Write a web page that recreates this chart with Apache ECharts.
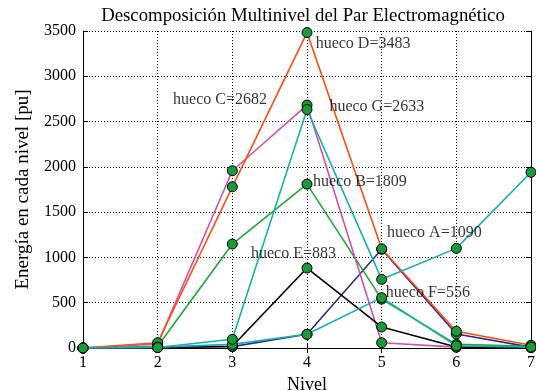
<!DOCTYPE html>
<html><head><meta charset="utf-8">
<script src="https://cdn.jsdelivr.net/npm/echarts@6/dist/echarts.min.js"></script>
<style>html,body{margin:0;padding:0;background:#fff}#c{width:536px;height:391px}</style>
</head><body><div id="c"></div>
<script>
const levels = [1, 2, 3, 4, 5, 6, 7];
const huecoA = [0, 5, 15, 151, 1090, 155, 10];
const huecoB = [0, 20, 1148, 1809, 540, 40, 20];
const huecoC = [0, 45, 1957, 2682, 58, 10, 5];
const huecoD = [0, 58, 1780, 3483, 1095, 185, 30];
const huecoE = [0, 5, 20, 883, 232, 10, 5];
const huecoF = [0, 10, 40, 151, 556, 25, 10];
const huecoG = [0, 5, 96, 2633, 758, 1100, 1940];
const seriesNames = ['hueco A', 'hueco B', 'hueco C', 'hueco D', 'hueco E', 'hueco F', 'hueco G'];
const seriesColors = ['#2e2a8c', '#1ea83a', '#d050ae', '#ff4a10', '#000000', '#14b0b0', '#14b0b0'];
const yTicks = [0, 500, 1000, 1500, 2000, 2500, 3000, 3500];
// annotation texts with anchor (left edge) in data coordinates
const annoText = ['hueco D=3483', 'hueco C=2682', 'hueco G=2633', 'hueco B=1809', 'hueco A=1090', 'hueco E=883', 'hueco F=556'];
const annoX = [4.116, 2.207, 4.30, 4.08, 5.07, 3.25, 5.055];
const annoY = [3355, 2737, 2660, 1832, 1269, 1037, 607];

const all = [huecoA, huecoB, huecoC, huecoD, huecoE, huecoF, huecoG];
const font = 'Liberation Serif';
const chart = echarts.init(document.getElementById('c'), null, {renderer: 'canvas'});
const series = all.map((vals, i) => ({
  name: seriesNames[i], type: 'line',
  data: levels.map((l, j) => [l, vals[j]]),
  symbol: 'circle', symbolSize: 10,
  itemStyle: {color: '#1a9a3a', borderColor: '#000', borderWidth: 1},
  lineStyle: {color: seriesColors[i], width: 1.6},
  z: 2 + i, animation: false
}));
series.push({
  type: 'scatter', symbolSize: 0,
  data: annoText.map((t, i) => ({value: [annoX[i], annoY[i]], name: t})),
  label: {show: true, position: 'right', distance: 0, formatter: p => p.name,
          fontFamily: font, fontSize: 16, color: '#000'},
  z: 20, animation: false, silent: true
});
const axisCommon = {
  axisLine: {show: true, lineStyle: {color: '#000', width: 1}},
  axisTick: {show: true, inside: true, length: 5, lineStyle: {color: '#000'}},
};
chart.setOption({
  animation: false,
  title: {text: 'Descomposición Multinivel del Par Electromagnético', left: 298, top: 2, textAlign: 'center',
          textStyle: {fontFamily: font, fontSize: 18.8, fontWeight: 'normal', color: '#000'}},
  grid: {left: 83, right: 5, top: 31, bottom: 43, show: false, containLabel: false, outerBoundsMode: 'none'},
  xAxis: [
    Object.assign({type: 'value', min: 1, max: 7, interval: 1, position: 'bottom',
      name: 'Nivel', nameLocation: 'middle', nameGap: 26,
      nameTextStyle: {fontFamily: font, fontSize: 18, color: '#000'},
      axisLabel: {fontFamily: font, fontSize: 16, color: '#000', margin: 7},
      splitLine: {show: true, lineStyle: {color: '#000', type: [1, 2], width: 1}}}, axisCommon),
    Object.assign({type: 'value', min: 1, max: 7, interval: 1, position: 'top',
      axisLabel: {show: false}, splitLine: {show: false}}, axisCommon)
  ],
  yAxis: [
    Object.assign({type: 'value', min: yTicks[0], max: yTicks[yTicks.length - 1], interval: 500, position: 'left',
      name: 'Energía en cada nivel [pu]', nameLocation: 'middle', nameGap: 50,
      nameTextStyle: {fontFamily: font, fontSize: 19, color: '#000'},
      axisLabel: {fontFamily: font, fontSize: 16, color: '#000', margin: 7, formatter: v => String(v)},
      splitLine: {show: true, lineStyle: {color: '#000', type: [1, 2], width: 1}}}, axisCommon),
    Object.assign({type: 'value', min: yTicks[0], max: yTicks[yTicks.length - 1], interval: 500, position: 'right',
      axisLabel: {show: false}, splitLine: {show: false}}, axisCommon)
  ],
  series: series
});
</script></body></html>
